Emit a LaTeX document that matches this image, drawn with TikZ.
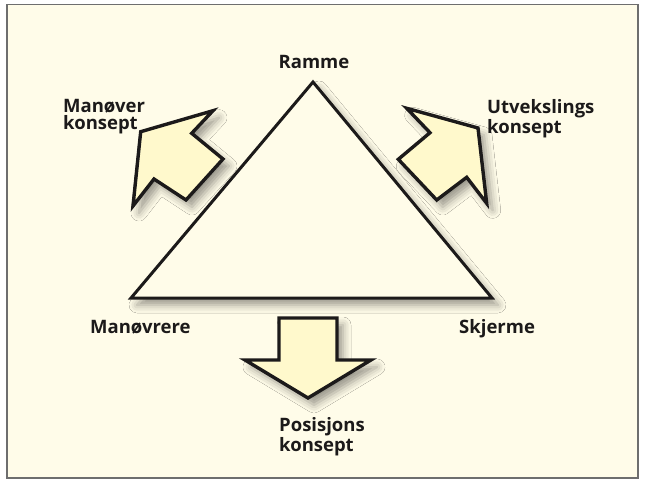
\documentclass[tikz,border=0pt]{standalone}
\usepackage{fontspec}
\setmainfont{Open Sans}
\usetikzlibrary{shadows.blur}
\definecolor{bgcream}{HTML}{FFFCE9}
\definecolor{arrowfill}{HTML}{FFF9CC}
\definecolor{inkdark}{HTML}{1C1A1A}
\definecolor{framegray}{HTML}{6E6E6E}
\tikzset{
  softshadow/.style={blur shadow={shadow xshift=6pt, shadow yshift=-7pt, shadow blur radius=8pt, shadow opacity=40}},
  bigarrow/.style={draw=inkdark, line width=3.4pt, line join=miter, fill=arrowfill, softshadow},
  trianglestyle/.style={draw=inkdark, line width=3pt, line join=miter, fill=bgcream, softshadow},
  lbl/.style={inner sep=0pt, text=inkdark, font=\fontsize{18.5}{17.5}\selectfont\bfseries, align=left}
}
\begin{document}
\begin{tikzpicture}[x=1pt,y=-1pt]
\useasboundingbox (0,0) rectangle (654,483);
\fill[white] (0,0) rectangle (654,483);
\draw[framegray, line width=1.5pt, fill=bgcream] (7,4.5) rectangle (638,478);
% triangle
\draw[trianglestyle] (313,82) -- (492,298) -- (131,298) -- cycle;
% arrows
\draw[bigarrow] (140.7,131.7) -- (213,110.7) -- (191.7,133.3) -- (223,159) -- (186,200) -- (154,179) -- (133,206) -- cycle;
\draw[bigarrow] (478,128) -- (486.7,203.3) -- (466.7,177.3) -- (436.7,200) -- (398.3,159.3) -- (430,132.7) -- (406.7,108.3) -- cycle;
\draw[bigarrow] (279,318) -- (337,318) -- (337,360) -- (371,360) -- (308,398) -- (245,360) -- (279,360) -- cycle;
% labels
\node[lbl, anchor=north west] (manover) at (63,99) {Manøver\\konsept};
\node[lbl, anchor=north west] (utveks) at (487,99.5) {Utvekslings\\konsept};
\node[lbl, anchor=base] (ramme) at (314,68) {Ramme};
\node[lbl, anchor=base west] (manovrere) at (90,333) {Manøvrere};
\node[lbl, anchor=base west] (skjerme) at (459,333) {Skjerme};
\node[lbl, anchor=north west] (posisjon) at (279,417.5) {Posisjons\\konsept};
\end{tikzpicture}
\end{document}
